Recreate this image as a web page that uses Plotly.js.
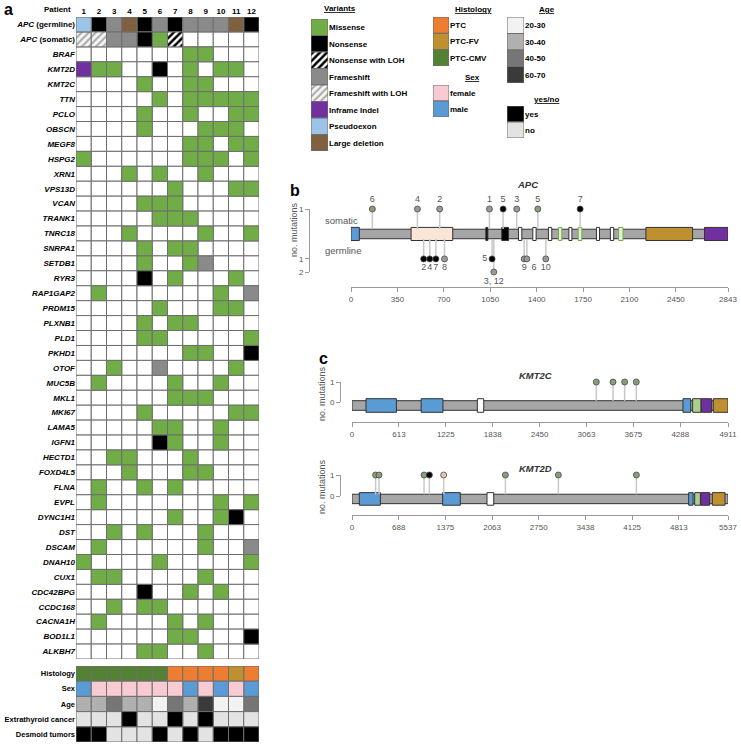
<!DOCTYPE html>
<html>
<head>
<meta charset="utf-8">
<script src="https://cdn.plot.ly/plotly-3.0.1.min.js"></script>
<style>html,body{margin:0;padding:0;background:#fff}#chart{width:741px;height:745px}</style>
</head>
<body>
<div id="chart"></div>
<script>
// ---- data ----
const patients = [1, 2, 3, 4, 5, 6, 7, 8, 9, 10, 11, 12]

// variant codes: 0 none, 1 missense, 2 nonsense, 3 nonsense+LOH, 4 frameshift,
// 5 frameshift+LOH, 6 inframe indel, 7 pseudoexon, 8 large deletion
const variantCodes = [1, 2, 3, 4, 5, 6, 7, 8]
const variantNames = ['Missense', 'Nonsense', 'Nonsense with LOH', 'Frameshift',
  'Frameshift with LOH', 'Inframe Indel', 'Pseudoexon', 'Large deletion']

const apcGermline = [7, 2, 4, 8, 2, 4, 2, 4, 4, 4, 8, 2]
const apcSomatic = [5, 5, 4, 4, 2, 1, 3, 0, 0, 0, 0, 0]

const genes = ['BRAF', 'KMT2D', 'KMT2C', 'TTN', 'PCLO', 'OBSCN', 'MEGF8', 'HSPG2', 'XRN1', 'VPS13D',
  'VCAN', 'TRANK1', 'TNRC18', 'SNRPA1', 'SETDB1', 'RYR3', 'RAP1GAP2', 'PRDM15', 'PLXNB1', 'PLD1',
  'PKHD1', 'OTOF', 'MUC5B', 'MKL1', 'MKI67', 'LAMA5', 'IGFN1', 'HECTD1', 'FOXD4L5', 'FLNA',
  'EVPL', 'DYNC1H1', 'DST', 'DSCAM', 'DNAH10', 'CUX1', 'CDC42BPG', 'CCDC168', 'CACNA1H', 'BOD1L1',
  'ALKBH7']
// one string per gene, one digit per patient 1..12
const geneCalls = ['000000011000', '611002010110', '000010011000', '000001011111', '000010010011',
  '000010001110', '000000011011', '100000011101', '000101001000', '000000100011',
  '000011100000', '000001110000', '000100001001', '000010110000', '000010014000',
  '000020100010', '010000000104', '000001000110', '000010110000', '000011000001',
  '000000011002', '001004000010', '010000100100', '000000111000', '000010000011',
  '000001100100', '000002100100', '001100010000', '000100011000', '010010100000',
  '010000000101', '000000100120', '001010001000', '010000001004', '100001000001',
  '011000001000', '000020010100', '001011000000', '010000101000', '000000110002',
  '000011001000']

const clinicalLabels = ['Histology', 'Sex', 'Age', 'Extrathyroid cancer', 'Desmoid tumors']
const histology = ['PTC-CMV', 'PTC-CMV', 'PTC-CMV', 'PTC-CMV', 'PTC-CMV', 'PTC-CMV',
  'PTC', 'PTC', 'PTC', 'PTC', 'PTC-FV', 'PTC']
const sex = ['male', 'female', 'female', 'female', 'female', 'female', 'female', 'male', 'female', 'male', 'female', 'male']
const age = ['30-40', '30-40', '40-50', '30-40', '30-40', '20-30', '40-50', '30-40', '60-70', '20-30', '20-30', '40-50']
const extrathyroid = ['no', 'no', 'no', 'yes', 'no', 'no', 'yes', 'no', 'yes', 'no', 'no', 'no']
const desmoid = ['yes', 'yes', 'no', 'no', 'no', 'yes', 'no', 'yes', 'no', 'yes', 'yes', 'yes']

const histologyLevels = ['PTC', 'PTC-FV', 'PTC-CMV']
const sexLevels = ['female', 'male']
const ageLevels = ['20-30', '30-40', '40-50', '60-70']
const yesNoLevels = ['yes', 'no']

// APC protein
const apcLength = 2843
const apcTicks = [0, 350, 700, 1050, 1400, 1750, 2100, 2450, 2843]
const apcDomStart = [0, 453, 1017, 1137, 1263, 1371, 1489, 1565, 1643, 1713, 1851, 1956, 2018, 2224, 2666]
const apcDomEnd = [63, 767, 1032, 1188, 1288, 1396, 1514, 1590, 1666, 1741, 1874, 1981, 2051, 2576, 2843]
const apcDomType = ['Oligomerization', 'Armadillo', '15-aa repeat', '15-aa repeat', '20-aa repeat',
  '20-aa repeat', '20-aa repeat', 'SAMP', '20-aa repeat', 'SAMP', '20-aa repeat', '20-aa repeat',
  'SAMP', 'Basic', 'EB1 binding']
const apcSomPos = [161, 501, 669, 1044, 1147, 1250, 1409, 1728]
const apcSomPatient = ['6', '4', '2', '1', '5', '3', '5', '7']
const apcSomType = ['Missense', 'Frameshift', 'Frameshift', 'Frameshift', 'Nonsense', 'Frameshift', 'Missense', 'Nonsense']
const apcSomCount = [1, 1, 1, 1, 1, 1, 1, 1]
const apcGermPos = [548, 594, 640, 705, 1064, 1077, 1306, 1326, 1469]
const apcGermPatient = ['2', '4', '7', '8', '5', '3, 12', '9', '6', '10']
const apcGermType = ['Nonsense', 'Nonsense', 'Nonsense', 'Frameshift', 'Nonsense', 'Frameshift', 'Frameshift', 'Frameshift', 'Frameshift']
const apcGermCount = [1, 1, 1, 1, 1, 2, 1, 1, 1]

// KMT2C / KMT2D proteins
const kmt2cLength = 4911
const kmt2cTicks = [0, 613, 1225, 1838, 2450, 3063, 3675, 4288, 4911]
const kmt2cDomStart = [183, 903, 1637, 4323, 4449, 4562, 4719]
const kmt2cDomEnd = [580, 1188, 1720, 4424, 4558, 4697, 4911]
const kmt2cDomType = ['PHD', 'PHD', 'HMG', 'PHD', 'FYRN', 'FYRC', 'SET']
const kmt2cMutPos = [3191, 3409, 3561, 3713]
const kmt2cMutType = ['Missense', 'Missense', 'Missense', 'Missense']

const kmt2dLength = 5537
const kmt2dTicks = [0, 688, 1375, 2063, 2750, 3438, 4125, 4813, 5537]
const kmt2dDomStart = [108, 1335, 1988, 4958, 5047, 5135, 5306]
const kmt2dDomEnd = [418, 1595, 2087, 5022, 5130, 5268, 5493]
const kmt2dDomType = ['PHD', 'PHD', 'HMG', 'PHD', 'FYRN', 'FYRC', 'SET']
const kmt2dMutPos = [348, 398, 1061, 1139, 1350, 2259, 3039, 4188]
const kmt2dMutType = ['Missense', 'Missense', 'Missense', 'Nonsense', 'Inframe Indel', 'Missense', 'Missense', 'Missense']

// ---- styling ----
const FONT = 'Liberation Sans, Arial, sans-serif'
const GRID = '#6e6e6e'
const W = 741, H = 745
const px = x => x / W
const py = y => 1 - y / H
const dx = (a, b) => [px(a), px(b)]
const dy = (t, b) => [py(b), py(t)]

const cellStyle = {
  '0': {color: '#ffffff'},
  '1': {color: '#70ad47'},
  '2': {color: '#000000'},
  '3': {color: '#ffffff', pattern: {shape: '/', fgcolor: '#000', bgcolor: '#fff', size: 5, solidity: 0.5}},
  '4': {color: '#8a8a8a'},
  '5': {color: '#ffffff', pattern: {shape: '/', fgcolor: '#a8a8a8', bgcolor: '#f4f4f4', size: 5, solidity: 0.4}},
  '6': {color: '#7030a0'},
  '7': {color: '#9dc3e6'},
  '8': {color: '#7f6040'},
  'PTC': {color: '#ed7d31'},
  'PTC-FV': {color: '#bf9030'},
  'PTC-CMV': {color: '#548235'},
  'female': {color: '#f8cbd3'},
  'male': {color: '#5b9bd5'},
  '20-30': {color: '#f2f2f2'},
  '30-40': {color: '#b0b0b0'},
  '40-50': {color: '#767676'},
  '60-70': {color: '#3a3a3a'},
  'yes': {color: '#000000'},
  'no': {color: '#e3e3e3'},
}

const domainColor = {
  'Oligomerization': '#5b9bd5', 'Armadillo': '#fbe5d6', '15-aa repeat': '#000000',
  '20-aa repeat': '#ffffff', 'SAMP': '#e2f0d9', 'Basic': '#bf9030', 'EB1 binding': '#7030a0',
  'PHD': '#5b9bd5', 'HMG': '#ffffff', 'FYRN': '#a9d18e', 'FYRC': '#7030a0', 'SET': '#bf9030',
}
const domainEdge = t => (t === 'SAMP' ? '#70ad47' : '#333333')

const dotColor = {
  'Missense': '#86a076', 'Frameshift': '#9a9a9a', 'Nonsense': '#000000', 'Inframe Indel': '#e8c6b0',
}

// one bar trace per category; each cell is a unit bar
function cellTraces(rows, xa, ya) {
  const groups = {}
  rows.forEach((row, r) => row.forEach((key, c) => {
    const k = String(key)
    if (!groups[k]) groups[k] = {x: [], base: []}
    groups[k].x.push(c + 1)
    groups[k].base.push(r - 0.5)
  }))
  return Object.keys(groups).map(k => {
    const s = cellStyle[k]
    const marker = {color: s.color, line: {color: GRID, width: 1}}
    if (s.pattern) marker.pattern = s.pattern
    return {
      type: 'bar', x: groups[k].x, y: groups[k].x.map(() => 1), base: groups[k].base, width: 1,
      marker: marker, xaxis: xa, yaxis: ya, hoverinfo: 'skip', showlegend: false, cliponaxis: false,
    }
  })
}

function proteinTraces(len, starts, ends, types, center, bbH, domH, xa, ya) {
  const backbone = {
    type: 'bar', orientation: 'h', y: [center], x: [len], base: [0], width: bbH,
    marker: {color: '#a6a6a6', line: {color: '#333', width: 1}},
    xaxis: xa, yaxis: ya, hoverinfo: 'skip', cliponaxis: false,
  }
  const domains = {
    type: 'bar', orientation: 'h', y: starts.map(() => center), x: ends.map((e, i) => e - starts[i]),
    base: starts, width: domH,
    marker: {color: types.map(t => domainColor[t]), line: {color: types.map(domainEdge), width: 1}},
    xaxis: xa, yaxis: ya, hoverinfo: 'skip', cliponaxis: false,
  }
  return [backbone, domains]
}

function lollipopTraces(pos, yTop, yStart, types, labels, textpos, xa, ya) {
  const sx = [], sy = []
  pos.forEach((p, i) => { sx.push(p, p, null); sy.push(yStart, yTop[i], null) })
  const stems = {
    type: 'scatter', mode: 'lines', x: sx, y: sy, line: {color: '#c9c9c9', width: 1.5},
    xaxis: xa, yaxis: ya, hoverinfo: 'skip', cliponaxis: false,
  }
  const dots = {
    type: 'scatter', mode: labels ? 'markers+text' : 'markers', x: pos, y: yTop,
    marker: {size: 6, color: types.map(t => dotColor[t]), line: {color: '#4a4a4a', width: 0.8}},
    text: labels || undefined, textposition: textpos, textfont: {size: 9, color: '#555'},
    xaxis: xa, yaxis: ya, hoverinfo: 'skip', cliponaxis: false,
  }
  return [stems, dots]
}

// invisible point so a bracket-only y axis gets drawn
const anchorTrace = (xa, ya) => ({
  type: 'scatter', mode: 'markers', x: [0], y: [0.5], marker: {opacity: 0},
  xaxis: xa, yaxis: ya, hoverinfo: 'skip',
})

// ---- traces ----
const mainRows = [apcGermline, apcSomatic].concat(geneCalls.map(s => s.split('').map(Number)))
const rowLabels = ['<b><i>APC</i> (germline)</b>', '<b><i>APC</i> (somatic)</b>']
  .concat(genes.map(g => `<b><i>${g}</i></b>`))

let traces = []
traces = traces.concat(cellTraces(mainRows, 'x', 'y'))
traces = traces.concat(cellTraces([histology, sex, age, extrathyroid, desmoid], 'x2', 'y2'))
traces = traces.concat(cellTraces(variantCodes.map(c => [c]), 'x3', 'y3'))
traces = traces.concat(cellTraces(histologyLevels.map(c => [c]), 'x4', 'y4'))
traces = traces.concat(cellTraces(sexLevels.map(c => [c]), 'x5', 'y5'))
traces = traces.concat(cellTraces(ageLevels.map(c => [c]), 'x6', 'y6'))
traces = traces.concat(cellTraces(yesNoLevels.map(c => [c]), 'x7', 'y7'))

// APC: somatic counts above the protein, germline counts below
const apcLevel = c => 1 + 1.1 * c
traces = traces.concat(lollipopTraces(apcSomPos, apcSomCount.map(apcLevel), 0.42, apcSomType,
  apcSomPatient, 'top center', 'x8', 'y8'))
traces = traces.concat(lollipopTraces(apcGermPos, apcGermCount.map(c => -apcLevel(c)), -0.42, apcGermType,
  apcGermPatient, ['bottom center', 'bottom center', 'bottom center', 'bottom center', 'middle left',
    'bottom center', 'bottom center', 'bottom right', 'bottom center'], 'x8', 'y8'))
traces = traces.concat(proteinTraces(apcLength, apcDomStart, apcDomEnd, apcDomType, 0, 0.8, 1.1, 'x8', 'y8'))

traces = traces.concat(lollipopTraces(kmt2cMutPos, kmt2cMutPos.map(() => 1), 0.06, kmt2cMutType,
  null, null, 'x9', 'y9'))
traces = traces.concat(proteinTraces(kmt2cLength, kmt2cDomStart, kmt2cDomEnd, kmt2cDomType, -0.175, 0.48, 0.68, 'x9', 'y9'))
traces.push(anchorTrace('x9', 'y11'))

traces = traces.concat(lollipopTraces(kmt2dMutPos, kmt2dMutPos.map(() => 1), 0.08, kmt2dMutType,
  null, null, 'x10', 'y10'))
traces = traces.concat(proteinTraces(kmt2dLength, kmt2dDomStart, kmt2dDomEnd, kmt2dDomType, -0.14, 0.45, 0.6, 'x10', 'y10'))
traces.push(anchorTrace('x10', 'y12'))

// ---- axes ----
const hidden = (domain, range, anchor) => ({domain, range, anchor, visible: false, fixedrange: true})
function legendY(domain, labels, anchor) {
  return {
    domain, anchor, side: 'right', range: [labels.length - 0.5, -0.5],
    tickvals: labels.map((_, i) => i), ticktext: labels.map(l => `<b>${l}</b>`),
    tickfont: {size: 8, color: '#000'}, ticks: '', showgrid: false, zeroline: false, showline: false, fixedrange: true,
  }
}
const lolliX = (domain, range, tickvals, ypos) => ({
  domain, range, tickvals, anchor: 'free', position: py(ypos), showline: true, linecolor: '#999',
  ticks: 'outside', ticklen: 4, tickcolor: '#999', tickfont: {size: 8, color: '#555'},
  showgrid: false, zeroline: false, fixedrange: true,
})
const lolliY = (domain, range, tickvals, ticktext, xpos) => ({
  domain, range, tickvals, ticktext, anchor: 'free', position: px(xpos), showline: true, linecolor: '#999',
  ticks: 'outside', ticklen: 4, tickcolor: '#999', tickfont: {size: 8, color: '#555'},
  showgrid: false, zeroline: false, fixedrange: true,
})
const freeHidden = (domain, range) => ({domain, range, anchor: 'free', position: 0, visible: false, fixedrange: true})

function ann(text, x, y, size, opts) {
  return Object.assign({
    xref: 'paper', yref: 'paper', x: px(x), y: py(y), text, showarrow: false,
    xanchor: 'center', yanchor: 'middle', font: {size, color: '#000', family: FONT},
  }, opts || {})
}
const grayFont = (size, color) => ({font: {size, color, family: FONT}})

const layout = {
  width: W, height: H, margin: {l: 0, r: 0, t: 0, b: 0},
  paper_bgcolor: '#fff', plot_bgcolor: 'rgba(0,0,0,0)',
  showlegend: false, barmode: 'overlay', bargap: 0,
  font: {family: FONT, color: '#000'},
  xaxis: {
    domain: dx(76, 259), range: [0.5, 12.5], anchor: 'y', side: 'top',
    tickvals: patients, ticktext: patients.map(p => `<b>${p}</b>`), tickfont: {size: 8},
    ticks: '', showgrid: false, zeroline: false, showline: false, fixedrange: true,
  },
  yaxis: {
    domain: dy(17, 659), range: [mainRows.length - 0.5, -0.5], anchor: 'x',
    tickvals: rowLabels.map((_, i) => i), ticktext: rowLabels, tickfont: {size: 8},
    ticks: '', showgrid: false, zeroline: false, showline: false, fixedrange: true,
  },
  xaxis2: hidden(dx(76, 259), [0.5, 12.5], 'y2'),
  yaxis2: {
    domain: dy(666, 742), range: [4.5, -0.5], anchor: 'x2',
    tickvals: clinicalLabels.map((_, i) => i), ticktext: clinicalLabels.map(l => `<b>${l}</b>`),
    tickfont: {size: 7.5}, ticks: '', showgrid: false, zeroline: false, showline: false, fixedrange: true,
  },
  xaxis3: hidden(dx(311, 328), [0.5, 1.5], 'y3'),
  yaxis3: legendY(dy(19, 151), variantNames, 'x3'),
  xaxis4: hidden(dx(433, 449), [0.5, 1.5], 'y4'),
  yaxis4: legendY(dy(17, 66), histologyLevels, 'x4'),
  xaxis5: hidden(dx(433, 449), [0.5, 1.5], 'y5'),
  yaxis5: legendY(dy(85, 117), sexLevels, 'x5'),
  xaxis6: hidden(dx(507, 524), [0.5, 1.5], 'y6'),
  yaxis6: legendY(dy(17, 83), ageLevels, 'x6'),
  xaxis7: hidden(dx(507, 524), [0.5, 1.5], 'y7'),
  yaxis7: legendY(dy(106, 138), yesNoLevels, 'x7'),
  xaxis8: lolliX(dx(351, 728), [0, apcLength], apcTicks, 287),
  yaxis8: lolliY(dy(209, 272), [-3.2, 2.1], [2.1, -2.1, -3.2], ['1', '1', '2'], 309),
  // KMT2C: data axis (20 px per count, 0 at y=402) plus a bracket axis for 0..1
  xaxis9: lolliX(dx(352, 728), [0, kmt2cLength], kmt2cTicks, 422),
  yaxis9: freeHidden(dy(372, 420), [-0.9, 1.5]),
  yaxis11: lolliY(dy(382, 402), [0, 1], [0, 1], ['0', '1'], 340),
  // KMT2D: 21 px per count, 0 at y=496
  xaxis10: lolliX(dx(352, 728), [0, kmt2dLength], kmt2dTicks, 515),
  yaxis10: freeHidden(dy(465, 515), [-19 / 21, 1 + 10 / 21]),
  yaxis12: lolliY(dy(475, 496), [0, 1], [0, 1], ['0', '1'], 340),
  annotations: [
    ann('<b>a</b>', 8, 10, 16),
    ann('<b>Patient</b>', 73, 9, 8, {xanchor: 'right'}),
    ann('<b><u>Variants</u></b>', 340, 8, 8),
    ann('<b><u>Histology</u></b>', 473, 9, 8),
    ann('<b><u>Sex</u></b>', 472, 77, 8),
    ann('<b><u>Age</u></b>', 547, 9, 8),
    ann('<b><u>yes/no</u></b>', 546, 99, 8),
    ann('<b>b</b>', 295, 190, 16),
    ann('<b>c</b>', 323, 358, 16),
    ann('<b><i>APC</i></b>', 527, 185, 9.5, grayFont(9.5, '#333')),
    ann('<b><i>KMT2C</i></b>', 535, 375, 9.5, grayFont(9.5, '#333')),
    ann('<b><i>KMT2D</i></b>', 535, 468, 9.5, grayFont(9.5, '#333')),
    ann('somatic', 323, 220, 9.5, Object.assign({xanchor: 'left'}, grayFont(9.5, '#555'))),
    ann('germline', 323, 251, 9.5, Object.assign({xanchor: 'left'}, grayFont(9.5, '#555'))),
    ann('no. mutations', 294, 230, 9, Object.assign({textangle: -90}, grayFont(9, '#555'))),
    ann('no. mutations', 322, 394, 9, Object.assign({textangle: -90}, grayFont(9, '#555'))),
    ann('no. mutations', 322, 487, 9, Object.assign({textangle: -90}, grayFont(9, '#555'))),
  ],
}

Plotly.newPlot('chart', traces, layout, {displayModeBar: false, staticPlot: true})
</script>
</body>
</html>
